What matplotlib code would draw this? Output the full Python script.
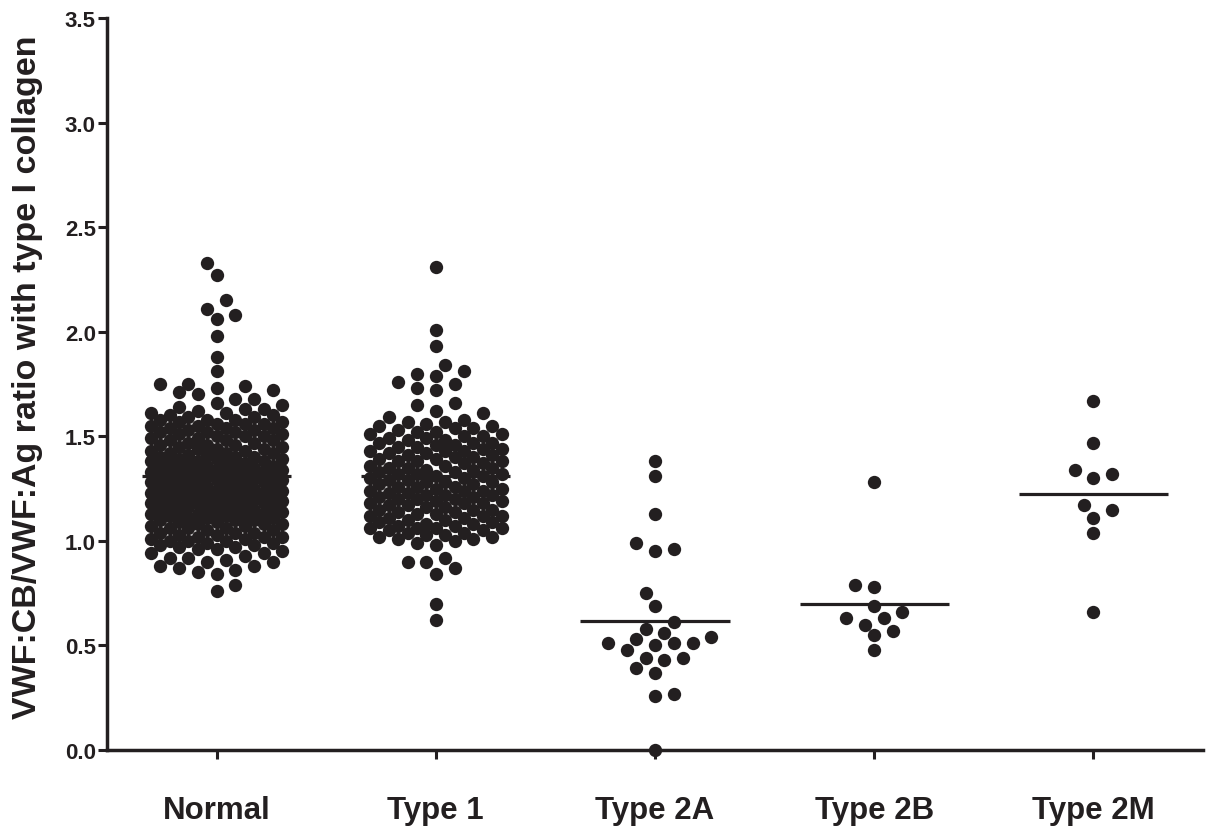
import numpy as np
import matplotlib
matplotlib.use('Agg')
import matplotlib.pyplot as plt

plt.rcParams['font.family'] = ['Liberation Sans', 'DejaVu Sans']

groups = ['Normal', 'Type 1', 'Type 2A', 'Type 2B', 'Type 2M']

normal_y = [0.76, 0.79, 0.84, 0.85, 0.86, 0.87, 0.88,
            0.90, 0.91, 0.92, 0.93, 0.94, 0.95, 0.96, 0.97, 0.98, 0.99,
            1.00, 1.01, 1.02, 1.03, 1.04, 1.05, 1.06, 1.07, 1.08, 1.09,
            1.10, 1.11, 1.12, 1.13, 1.14, 1.15, 1.16, 1.17, 1.18, 1.19,
            1.20, 1.21, 1.22, 1.23, 1.24, 1.25, 1.26, 1.27, 1.28, 1.29,
            1.30, 1.31, 1.32, 1.33, 1.34, 1.35, 1.36, 1.37, 1.38, 1.39,
            1.40, 1.41, 1.42, 1.43, 1.44, 1.45, 1.46, 1.47, 1.48, 1.49,
            1.50, 1.51, 1.52, 1.53, 1.54, 1.55, 1.56, 1.57, 1.58, 1.59,
            1.60, 1.61, 1.62, 1.63, 1.64, 1.65,
            1.66, 1.68, 1.70, 1.71, 1.72, 1.73, 1.74, 1.75, 1.81, 1.88,
            1.98, 2.06, 2.08, 2.11, 2.15, 2.27, 2.33]
normal_n = [1, 1, 1, 1, 1, 1, 2,
            2, 1, 2, 1, 2, 1, 2, 2, 2, 2,
            3, 2, 3, 2, 3, 2, 3, 2, 3, 2,
            3, 3, 3, 3, 3, 3, 3, 3, 3, 3,
            3, 3, 3, 3, 3, 3, 3, 3, 3, 3,
            3, 3, 3, 3, 3, 3, 3, 3, 3, 3,
            3, 2, 3, 2, 3, 2, 3, 2, 3, 2,
            3, 2, 3, 2, 3, 2, 3, 2, 3, 2,
            2, 2, 1, 2, 1, 1,
            1, 2, 1, 1, 1, 1, 1, 2, 1, 1,
            1, 1, 1, 1, 1, 1, 1]

type1_y = [0.62, 0.70, 0.84, 0.87, 0.90, 0.92, 0.98, 0.99,
           1.00, 1.01, 1.02, 1.03, 1.04, 1.05, 1.06, 1.07, 1.08, 1.09,
           1.10, 1.11, 1.12, 1.13, 1.14, 1.15, 1.16, 1.17, 1.18, 1.19,
           1.20, 1.21, 1.22, 1.23, 1.24, 1.25, 1.26, 1.27, 1.28, 1.29,
           1.30, 1.31, 1.32, 1.33, 1.34, 1.35, 1.36, 1.37, 1.38, 1.39,
           1.40, 1.41, 1.42, 1.43, 1.44, 1.45, 1.46, 1.47, 1.48, 1.49,
           1.50, 1.51, 1.52, 1.53, 1.54, 1.55, 1.56, 1.57,
           1.58, 1.59, 1.61, 1.62, 1.65, 1.66, 1.72, 1.73, 1.75, 1.76,
           1.79, 1.80, 1.81, 1.84, 1.93, 2.01, 2.31]
type1_n = [1, 1, 1, 1, 2, 1, 1, 1,
           1, 2, 2, 2, 2, 2, 4, 2, 2, 2,
           2, 2, 3, 2, 2, 3, 2, 2, 3, 2,
           3, 2, 3, 2, 3, 2, 3, 2, 3, 2,
           2, 2, 3, 2, 2, 3, 2, 2, 3, 2,
           2, 2, 2, 3, 2, 2, 2, 3, 2, 2,
           2, 2, 2, 1, 2, 2, 1, 2,
           1, 1, 1, 1, 1, 1, 1, 1, 1, 1,
           1, 1, 1, 1, 1, 1, 1]

type2a = [1.38, 1.31, 1.13, 0.99, 0.96, 0.95, 0.75, 0.69, 0.61, 0.58, 0.56, 0.54, 0.53,
          0.51, 0.51, 0.51, 0.50, 0.48, 0.44, 0.44, 0.43, 0.39, 0.37, 0.27, 0.26, 0.00]
type2b = [1.28, 0.79, 0.78, 0.69, 0.66, 0.63, 0.63, 0.60, 0.57, 0.55, 0.48]
type2m = [1.67, 1.47, 1.34, 1.32, 1.30, 1.17, 1.15, 1.11, 1.04, 0.66]

data = [np.repeat(normal_y, normal_n), np.repeat(type1_y, type1_n),
        np.array(type2a), np.array(type2b), np.array(type2m)]

ink = '#231f20'


def swarm(vals, px_x, px_y, diam=13.0, step=9.4, nmax=7):
    # Prism-like dot layout: fill side slots from the centre outwards
    order = np.argsort(vals, kind='stable')
    offs = np.zeros(len(vals))
    px, py = [], []
    flip = 1
    for i in order:
        y = vals[i] * px_y
        cand = [0.0]
        for k in range(1, nmax + 1):
            cand += [flip * k * step, -flip * k * step]
        cand = np.array(cand)
        if px:
            dx = cand[:, None] - np.array(px)[None, :]
            dy = y - np.array(py)[None, :]
            clear = np.sqrt(dx ** 2 + dy ** 2).min(axis=1)
        else:
            clear = np.full(len(cand), np.inf)
        ok = np.where(clear >= diam - 0.3)[0]
        j = ok[0] if len(ok) else int(np.argmax(clear))
        c = cand[j]
        if c != 0:
            flip = -int(np.sign(c))
        px.append(c)
        py.append(y)
        offs[i] = c / px_x
    return offs


fig = plt.figure(figsize=(12.09, 8.37), dpi=100)
ax = fig.add_axes([0.0885, 0.1027, 0.9065, 0.8746])
ax.set_xlim(-0.5, 4.5)
ax.set_ylim(0, 3.5)

px_x = ax.bbox.width / 5.0
px_y = ax.bbox.height / 3.5

for i, vals in enumerate(data):
    dx = swarm(vals, px_x, px_y)
    ax.scatter(i + dx, vals, s=92, color=ink, linewidths=0, zorder=3, clip_on=False)
    ax.hlines(np.mean(vals), i - 0.34, i + 0.34, color=ink, lw=2.3, zorder=4)

for side in ['top', 'right']:
    ax.spines[side].set_visible(False)
for side in ['left', 'bottom']:
    ax.spines[side].set_linewidth(2.5)
    ax.spines[side].set_color(ink)

ax.set_yticks(np.arange(0, 3.51, 0.5))
ax.set_yticklabels(['0.0', '0.5', '1.0', '1.5', '2.0', '2.5', '3.0', '3.5'])
ax.set_xticks(range(len(groups)))
ax.set_xticklabels(groups)
ax.tick_params(axis='y', length=6.5, width=2.2, color=ink, pad=1.5,
               labelsize=16, labelcolor=ink)
ax.tick_params(axis='x', length=6.5, width=2.2, color=ink, pad=26,
               labelsize=22.5, labelcolor=ink)
for lab in ax.get_xticklabels() + ax.get_yticklabels():
    lab.set_fontweight('bold')

ax.set_ylabel('VWF:CB/VWF:Ag ratio with type I collagen', fontsize=24.5,
              fontweight='bold', color=ink)
ax.yaxis.set_label_coords(-0.058, 0.51)

fig.savefig('out.png', dpi=100)
